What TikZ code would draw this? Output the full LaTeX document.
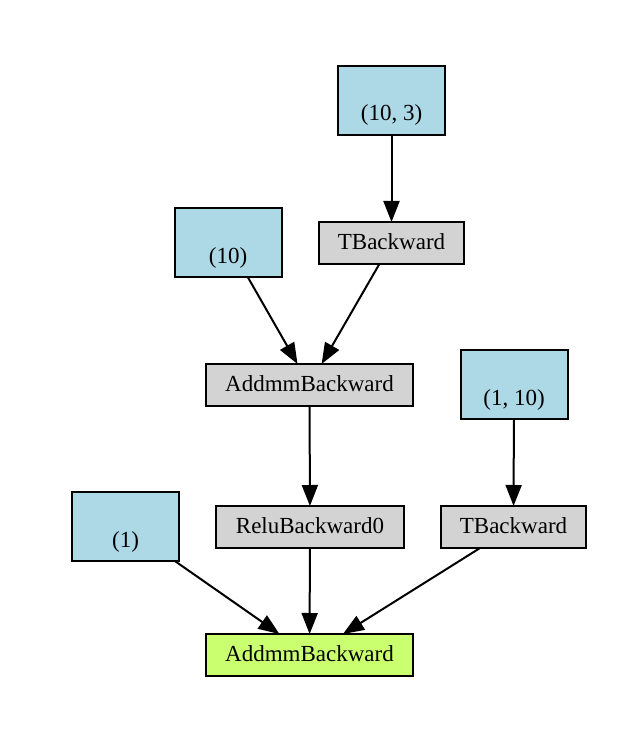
\documentclass[tikz,border=0pt]{standalone}
\usepackage{fontspec}
\setmainfont{Liberation Serif}
\usetikzlibrary{arrows.meta}
\definecolor{leafblue}{HTML}{ADD8E6}
\definecolor{opgray}{HTML}{D3D3D3}
\definecolor{outgreen}{HTML}{CAFF70}
\begin{document}
\begin{tikzpicture}[x=1pt,y=-1pt,
  base/.style={draw=black,line width=2pt,rectangle,inner sep=0pt,outer sep=0pt,
    font=\fontsize{23}{28}\selectfont},
  leaf/.style={base,fill=leafblue,minimum width=107pt,minimum height=69pt,
    text height=41pt,text depth=0pt},
  opbox/.style={base,fill=opgray,minimum height=42pt,text height=13pt,text depth=0pt},
  outbox/.style={base,fill=outgreen,minimum height=42pt,text height=13pt,text depth=0pt},
  conn/.style={line width=2pt,-{Triangle[length=21pt,width=16pt]}}]
\useasboundingbox (0,0) rectangle (630,735);
\node[leaf] (w2) at (391.5,100.5) {(10, 3)};
\node[opbox,minimum width=145pt] (t2) at (391.5,243) {TBackward};
\node[leaf] (b2) at (228,242.5) {(10)};
\node[opbox,minimum width=207pt] (a1) at (309.5,385) {AddmmBackward};
\node[leaf] (w1) at (514,384.5) {(1, 10)};
\node[leaf] (b1) at (125.5,526.5) {(1)};
\node[opbox,minimum width=188pt] (relu) at (310,527) {ReluBackward0};
\node[opbox,minimum width=145pt] (t1) at (513.5,527) {TBackward};
\node[outbox,minimum width=207pt] (out) at (309.5,655) {AddmmBackward};
\draw[conn] (w2) -- (t2);
\draw[conn] (b2) -- (a1);
\draw[conn] (t2) -- (a1);
\draw[conn] (a1) -- (relu);
\draw[conn] (w1) -- (t1);
\draw[conn] (b1) -- (out);
\draw[conn] (relu) -- (out);
\draw[conn] (t1) -- (out);
\end{tikzpicture}
\end{document}
